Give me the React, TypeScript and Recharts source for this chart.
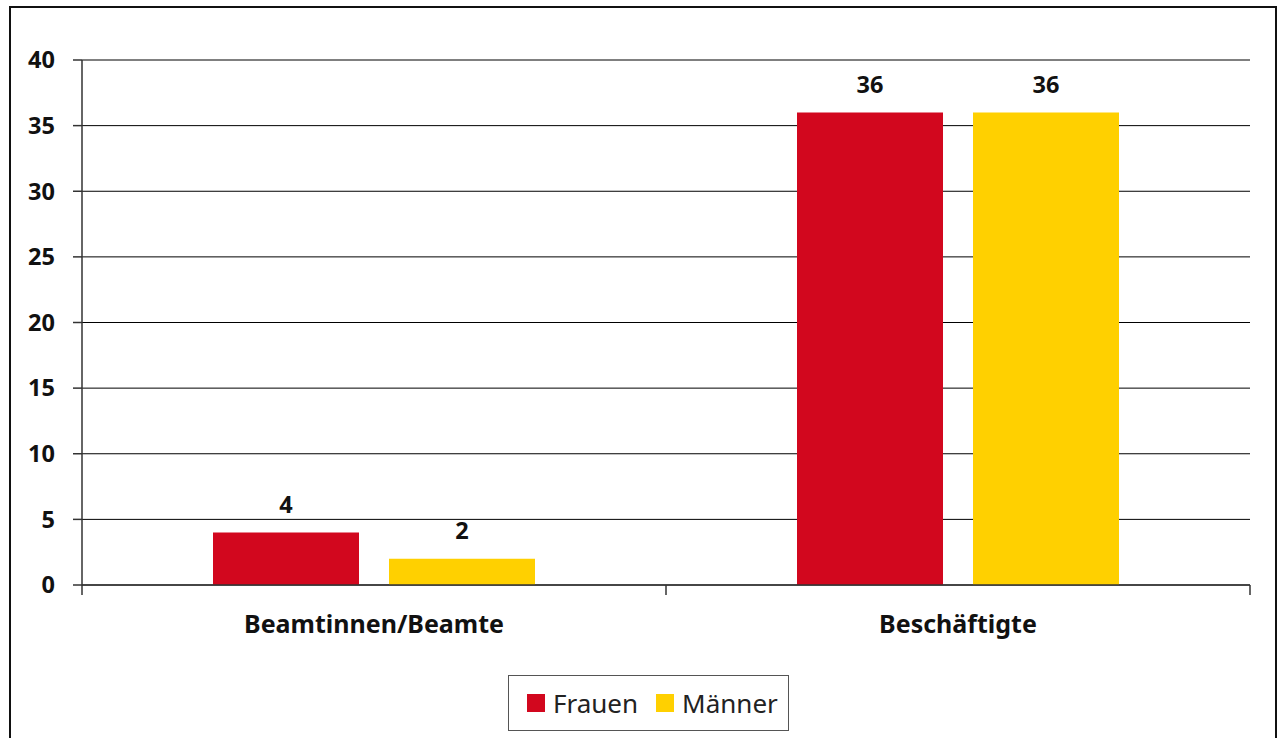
import { BarChart, Bar, XAxis, YAxis, CartesianGrid, LabelList } from "recharts"

const categories = ["Beamtinnen/Beamte", "Beschäftigte"]
const frauen = [4, 36]
const maenner = [2, 36]
const yTicks = [0, 5, 10, 15, 20, 25, 30, 35, 40]
const seriesNames = ["Frauen", "Männer"]
const seriesColors = ["#D2071E", "#FFD000"]

const data = categories.map((name, i) => ({
  name,
  Frauen: frauen[i],
  Männer: maenner[i],
}))

const FONT = "'Noto Sans', 'DejaVu Sans', sans-serif"

// category label plus tick marks on the band edges (like Excel)
function CategoryTick(props: any) {
  const { x, y, payload, index, visibleTicksCount } = props
  const half = payload?.offset ?? 0
  const isLast = index === visibleTicksCount - 1
  return (
    <g>
      <line x1={x - half} x2={x - half} y1={y} y2={y + 10} stroke="#333" strokeWidth={1.5} />
      {isLast && (
        <line x1={x + half} x2={x + half} y1={y} y2={y + 10} stroke="#333" strokeWidth={1.5} />
      )}
      <text
        x={x}
        y={y + 48}
        textAnchor="middle"
        fontFamily={FONT}
        fontWeight={700}
        fontSize={25}
        fill="#111"
      >
        {payload.value}
      </text>
    </g>
  )
}

export default function App() {
  return (
    <div
      style={{
        position: "absolute",
        left: 0,
        top: 0,
        width: 1281,
        height: 738,
        overflow: "hidden",
        background: "#fff",
        fontFamily: FONT,
      }}
    >
      <div
        style={{
          position: "absolute",
          left: 9,
          top: 6,
          width: 1268,
          height: 780,
          border: "2px solid #111",
          boxSizing: "border-box",
        }}
      />
      <div style={{ position: "absolute", left: 0, top: 0 }}>
        <BarChart
          width={1281}
          height={738}
          data={data}
          margin={{ top: 60, right: 31, left: 10, bottom: 0 }}
          barSize={146}
          barGap={30}
        >
          <CartesianGrid vertical={false} stroke="#000" strokeWidth={1} />
          <XAxis
            dataKey="name"
            height={153}
            tickSize={0}
            tickLine={false}
            tickMargin={0}
            interval={0}
            axisLine={{ stroke: "#333", strokeWidth: 1.5 }}
            tick={<CategoryTick />}
          />
          <XAxis
            xAxisId="top"
            dataKey="name"
            orientation="top"
            height={0}
            tick={false}
            tickLine={false}
            axisLine={{ stroke: "#8a8a8a", strokeWidth: 2.5 }}
          />
          <YAxis
            width={72}
            domain={[0, 40]}
            ticks={yTicks}
            interval={0}
            tickSize={9}
            tickMargin={18}
            tickLine={{ stroke: "#333", strokeWidth: 1.5 }}
            axisLine={{ stroke: "#333", strokeWidth: 1.5 }}
            tick={{ fontFamily: FONT, fontWeight: 700, fontSize: 23.5, fill: "#111" }}
          />
          <YAxis
            yAxisId="right"
            orientation="right"
            width={0}
            domain={[0, 40]}
            tick={false}
            tickLine={false}
            axisLine={{ stroke: "#8a8a8a", strokeWidth: 2.5 }}
          />
          {seriesNames.map((key, idx) => (
            <Bar key={key} dataKey={key} fill={seriesColors[idx]} isAnimationActive={false}>
              <LabelList
                dataKey={key}
                position="top"
                offset={20}
                style={{ fontFamily: FONT, fontWeight: 700, fontSize: 23.5, fill: "#111" }}
              />
            </Bar>
          ))}
        </BarChart>
      </div>
      <div
        style={{
          position: "absolute",
          left: 508,
          top: 675,
          width: 281,
          height: 56,
          border: "1.5px solid #555",
          boxSizing: "border-box",
          display: "flex",
          alignItems: "center",
          paddingLeft: 18,
          background: "#fff",
        }}
      >
        {seriesNames.map((name, idx) => (
          <div key={name} style={{ display: "flex", alignItems: "center", marginRight: 18 }}>
            <span
              style={{
                display: "inline-block",
                width: 18,
                height: 18,
                background: seriesColors[idx],
                marginRight: 8,
              }}
            />
            <span style={{ fontSize: 26, color: "#222", lineHeight: 1 }}>{name}</span>
          </div>
        ))}
      </div>
    </div>
  )
}
